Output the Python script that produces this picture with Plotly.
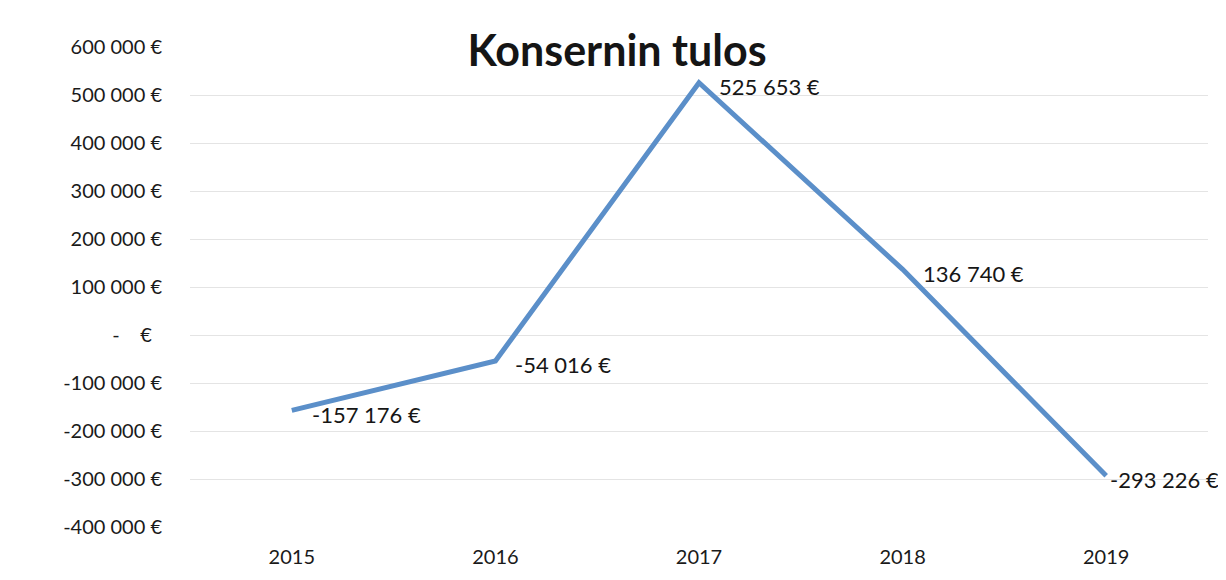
import plotly.graph_objects as go

# data
years = ["2015", "2016", "2017", "2018", "2019"]
results = [-157176, -54016, 525653, 136740, -293226]
point_labels = ["-157 176 €", "-54 016 €", "525 653 €", "136 740 €", "-293 226 €"]

tick_values = [600000, 500000, 400000, 300000, 200000, 100000, 0,
               -100000, -200000, -300000, -400000]
tick_labels = ["600 000 €", "500 000 €", "400 000 €", "300 000 €", "200 000 €",
               "100 000 €", " -    €  ", "-100 000 €", "-200 000 €", "-300 000 €",
               "-400 000 €"]

fig = go.Figure()
fig.add_trace(go.Scatter(x=years, y=results, mode="lines",
                         line=dict(color="#5b8fc9", width=5)))

# data labels to the right of each point (x given as category index)
# the last one hugs the point so it fits inside the frame
for i, (val, lab) in enumerate(zip(results, point_labels)):
    last = i == len(results) - 1
    fig.add_annotation(x=i, y=val, text=lab, showarrow=False,
                       xanchor="left", xshift=2 if last else 18,
                       yshift=-4,
                       font=dict(family="Lato", size=22, color="#161616"))

# page body adds an 8px margin, so the figure is 8px smaller
fig.update_layout(
    width=1218, height=572,
    margin=dict(l=182, r=18, t=39, b=41),
    paper_bgcolor="white", plot_bgcolor="white",
    showlegend=False,
    title=dict(text="<b>Konsernin tulos</b>", x=0.5, xanchor="center",
               y=0.925, yanchor="middle",
               font=dict(family="Lato", size=43, color="#151515")),
)
fig.update_xaxes(type="category", range=[-0.5, 4.5], showgrid=False,
                 zeroline=False, showline=False, ticks="",
                 tickfont=dict(family="Lato", size=20, color="#1a1a1a"),
                 ticklabelstandoff=16)
fig.update_yaxes(range=[-400000, 600000], tickvals=tick_values, ticktext=tick_labels,
                 showgrid=True, gridcolor="#e4e4e4", gridwidth=1,
                 zeroline=False, showline=False, ticks="",
                 tickfont=dict(family="Lato", size=20, color="#1a1a1a"),
                 ticklabelstandoff=27)

fig.write_html("out.html")
